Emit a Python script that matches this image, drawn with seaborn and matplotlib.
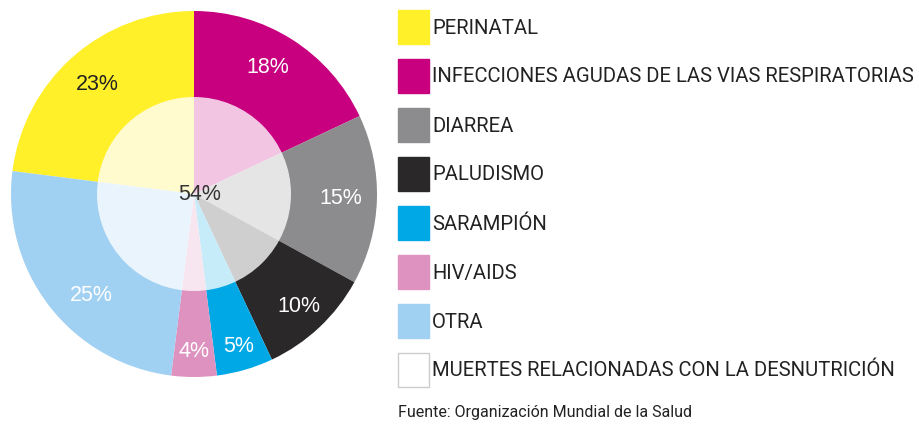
import matplotlib
matplotlib.use('Agg')
import matplotlib.pyplot as plt
from matplotlib.patches import Circle, Rectangle
import numpy as np
import seaborn as sns

sns.set_theme(style='white')
plt.rcParams['font.family'] = ['Roboto', 'DejaVu Sans']

# datos (orden de la leyenda)
causas = ['PERINATAL', 'INFECCIONES AGUDAS DE LAS VIAS RESPIRATORIAS', 'DIARREA',
          'PALUDISMO', 'SARAMPIÓN', 'HIV/AIDS', 'OTRA']
valores = [23, 18, 15, 10, 5, 4, 25]
colores = ['#FFF02A', '#C8007F', '#8C8C8E', '#2A2828', '#00A8E6', '#DE92BF', '#A0D0F2']
color_pct = ['#222222', 'white', 'white', 'white', 'white', 'white', 'white']
desnutricion = 54
etiqueta_desn = 'MUERTES RELACIONADAS CON LA DESNUTRICIÓN'
fuente = 'Fuente: Organización Mundial de la Salud'

W, H = 919, 424
fig = plt.figure(figsize=(W / 100, H / 100), dpi=100)

# pastel
cx, cy, r = 194, 194, 183
ax = fig.add_axes([(cx - r) / W, (H - cy - r) / H, 2 * r / W, 2 * r / H])
wedges, texts, autotexts = ax.pie(valores, colors=colores, startangle=90 + valores[0] * 3.6,
                                  counterclock=False, autopct='%d%%', pctdistance=0.82,
                                  wedgeprops=dict(linewidth=0),
                                  textprops=dict(fontsize=15.5, family=['Liberation Sans', 'DejaVu Sans']))
# ajuste fino de la posición de cada porcentaje
dist = [0.8, 0.8, 0.8, 0.84, 0.87, 0.86, 0.79]
giro = [0, 2, 0, 0, 0, 0, 7]
for t, c, w, d, g in zip(autotexts, color_pct, wedges, dist, giro):
    ang = np.deg2rad((w.theta1 + w.theta2) / 2 + g)
    t.set_position((d * np.cos(ang), d * np.sin(ang)))
    t.set_color(c)
    t.set_zorder(5)
ax.add_patch(Circle((0, 0), 97 / r, facecolor='white', alpha=0.78, linewidth=0, zorder=3))
ax.text(0.033, 0.0, f'{desnutricion}%', ha='center', va='center', fontsize=15.5,
        color='#333333', family=['Liberation Sans', 'DejaVu Sans'], zorder=6)
ax.set_xlim(-1, 1)
ax.set_ylim(-1, 1)
ax.axis('off')

# leyenda
lg = fig.add_axes([0, 0, 1, 1])
lg.set_xlim(0, W)
lg.set_ylim(H, 0)
lg.axis('off')
items = list(zip(causas, colores)) + [(etiqueta_desn, 'white')]
for i, (lab, col) in enumerate(items):
    y = 27 + i * 49
    ec = '#CCCCCC' if col == 'white' else col
    lg.add_patch(Rectangle((398, y - 17), 31, 34, facecolor=col, edgecolor=ec, linewidth=1))
    lg.text(432, y + 1, lab, ha='left', va='center', fontsize=14.6, color='#222222')
lg.text(398, 413, fuente, ha='left', va='center', fontsize=11.5, color='#222222')

fig.savefig('out.png', dpi=100)
